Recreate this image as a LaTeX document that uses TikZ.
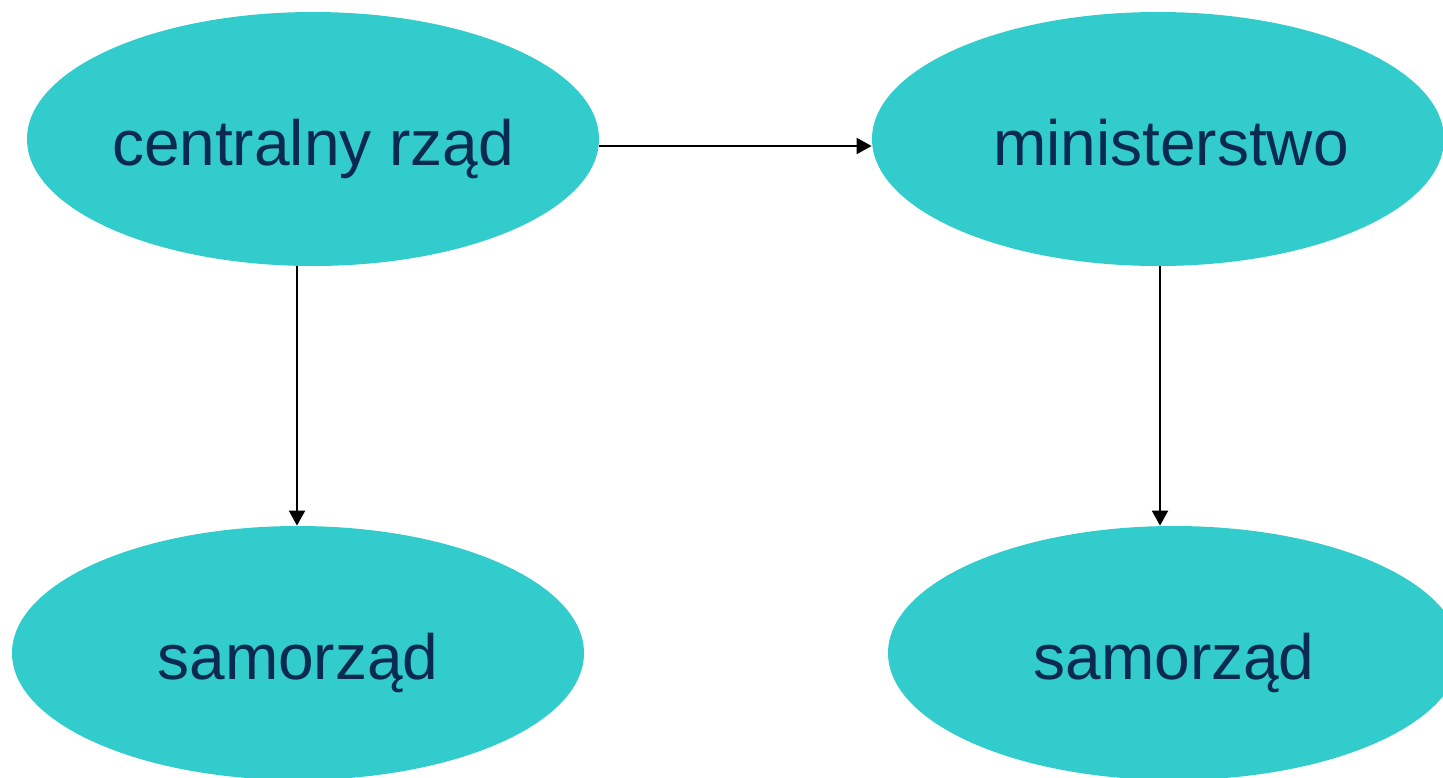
\documentclass[tikz,border=0pt]{standalone}
\usepackage{fontspec}
\setmainfont{Liberation Sans}
\usetikzlibrary{shapes.geometric,arrows.meta}
\definecolor{fillc}{HTML}{33CCCC}
\definecolor{textc}{HTML}{0B2A50}
\tikzset{
  oval/.style={ellipse, fill=fillc, draw=none, minimum width=286pt, minimum height=127pt, inner sep=0pt, text=textc, text height=30pt, text depth=4pt, font=\fontsize{32pt}{36pt}\selectfont},
  conn/.style={line width=1pt, -{Triangle[length=7.5pt,width=8pt]}}
}
\begin{document}
\begin{tikzpicture}[x=0.5pt,y=-0.5pt]
\useasboundingbox (0,0) rectangle (1443,777);
\clip (0,0) rectangle (1443,777);
\node[oval] (cr) at (313,139) {centralny rząd};
\node[oval] (min) at (1158,139) {\hspace*{13pt}ministerstwo};
\node[oval] (sl) at (298,653) {samorząd};
\node[oval] (sr) at (1174,653) {samorząd};
\draw[conn] ([yshift=-3.5pt]cr.east) -- ([yshift=-3.5pt]min.west);
\draw[conn] ([xshift=-8pt]cr.south) -- ([xshift=-8pt]cr.south |- sl.north);
\draw[conn] ([xshift=1pt]min.south) -- ([xshift=1pt]min.south |- sr.north);
\end{tikzpicture}
\end{document}
